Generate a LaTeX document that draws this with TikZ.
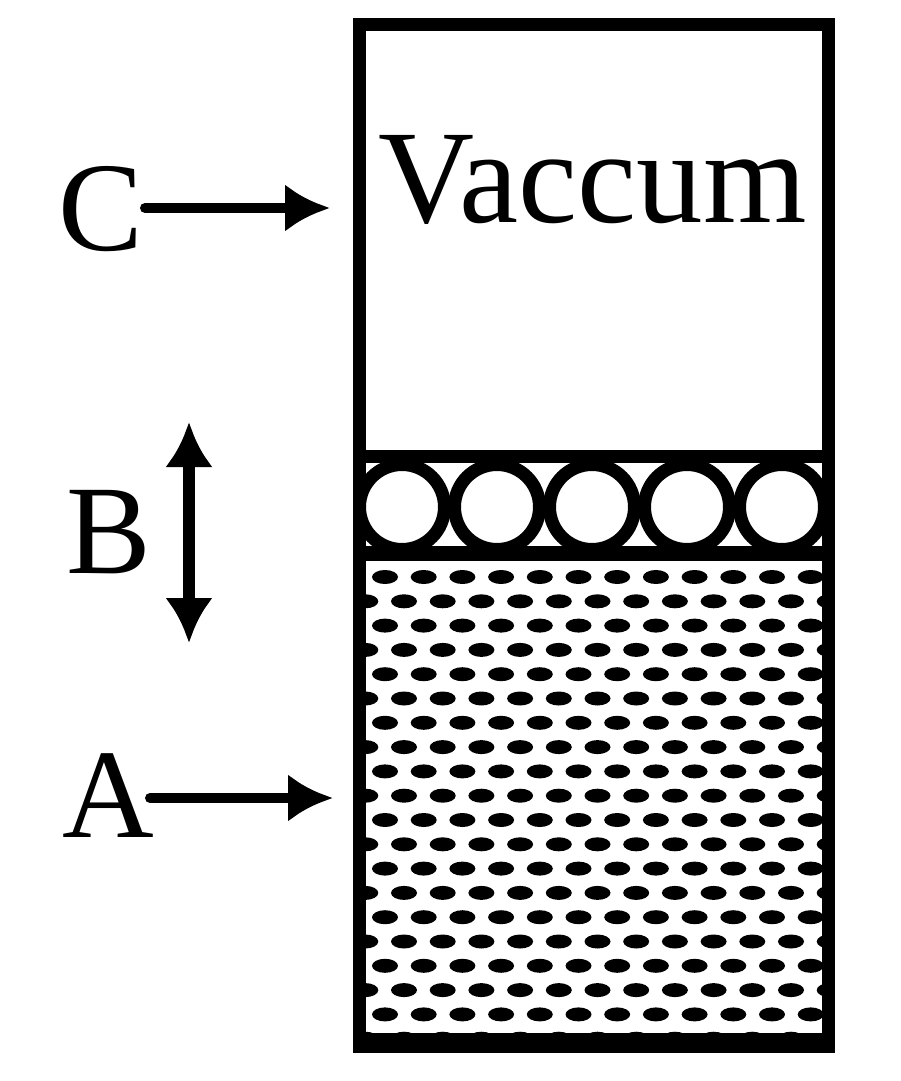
\documentclass[tikz,border=0pt]{standalone}
\usepackage{fontspec}
\setmainfont{Liberation Serif}
\usetikzlibrary{arrows.meta}
\begin{document}
\begin{tikzpicture}[x=1pt,y=-1pt,
  lbl/.style={anchor=base west,inner sep=0pt,font=\fontsize{127}{127}\selectfont},
  arr/.style={line width=10pt,-{Latex[length=45pt,width=48pt]}},
  darr/.style={line width=12pt,{Latex[length=45pt,width=48pt]}-{Latex[length=45pt,width=48pt]}}]
\useasboundingbox (0,0) rectangle (900,1081);
% dashes (liquid)
\begin{scope}
\clip (366,561) rectangle (822,1033);
\foreach \i in {0,...,19}{
  \pgfmathsetmacro{\yy}{577+24.3*\i}
  \pgfmathsetmacro{\xo}{mod(\i,2)==0 ? 385 : 404}
  \foreach \j in {-1,...,12}{
    \fill ({\xo+38.7*\j},\yy) ellipse [x radius=13, y radius=7];
  }
}
\end{scope}
% circles (piston)
\begin{scope}
\clip (366,463) rectangle (822,546);
\foreach \k in {0,...,4}{
  \draw[line width=13pt] ({402+95*\k},507) circle [radius=42.5];
}
\end{scope}
% container
\draw[line width=13pt] (359.5,24.5) rectangle (828.5,1046);
\fill (353,1033) rectangle (835,1053);
\draw[line width=13pt] (366,456.5) -- (822,456.5);
\draw[line width=15pt] (366,553.5) -- (822,553.5);
% texts
\node[lbl,font=\fontsize{133}{133}\selectfont] (vac) at (378,222) {Vaccum};
\node[lbl] (C) at (58,250) {C};
\node[lbl] (B) at (66,573) {B};
\node[lbl] (A) at (62,837) {A};
\coordinate (cs) at (145,208); \coordinate (ce) at (330,208);
\coordinate (as) at (150,798); \coordinate (ae) at (333,798);
\coordinate (bt) at (189,422); \coordinate (bb) at (189,643);
\draw[arr,line cap=round] (cs) -- (ce);
\draw[arr,line cap=round] (as) -- (ae);
\draw[darr] (bt) -- (bb);
\end{tikzpicture}
\end{document}
